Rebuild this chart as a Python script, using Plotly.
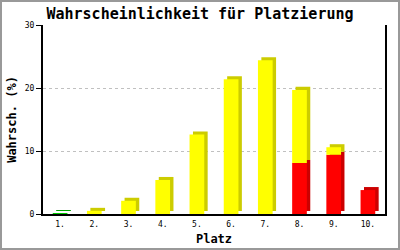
import plotly.graph_objects as go

categories = ["1.", "2.", "3.", "4.", "5.", "6.", "7.", "8.", "9.", "10."]
red_vals = [0, 0, 0, 0, 0, 0, 0, 8.1, 9.4, 3.8]
green_vals = [0.15, 0, 0, 0, 0, 0, 0, 0, 0, 0]
yellow_vals = [0, 0.5, 2.1, 5.4, 12.6, 21.4, 24.4, 11.6, 1.2, 0]
y_ticks = [0, 10, 20, 30]

W = 0.43      # bar width (category units)
DX = 0.1      # depth offset x (category units)
DY = 0.48     # depth offset y (value units)

series = [
    (red_vals, "#ff0000", "#cc0000"),
    (green_vals, "#00cc00", "#00a000"),
    (yellow_vals, "#ffff00", "#cccc00"),
]

xs = list(range(len(categories)))
bases = [0.0] * len(categories)
seg = []
for vals, front, side in series:
    seg.append((vals, list(bases), front, side))
    bases = [b + v for b, v in zip(bases, vals)]

fig = go.Figure()
# depth (shadow) faces first
for vals, base, front, side in seg:
    fig.add_trace(go.Bar(
        x=xs, y=[v if v > 0 else None for v in vals],
        base=[b + DY for b in base], width=W, offset=-W / 2 + DX,
        marker=dict(color=side, line=dict(width=0)), hoverinfo="skip", showlegend=False))
for vals, base, front, side in seg:
    fig.add_trace(go.Bar(
        x=xs, y=[v if v > 0 else None for v in vals],
        base=base, width=W, offset=-W / 2,
        marker=dict(color=front, line=dict(width=0)), hoverinfo="skip", showlegend=False))

L, R, T, B = 43, 15, 25, 36
PW, PH = 400 - L - R, 250 - T - B
mono = "DejaVu Sans Mono"

fig.update_layout(
    width=400, height=250, barmode="overlay",
    margin=dict(l=L, r=R, t=T, b=B, autoexpand=False),
    paper_bgcolor="white", plot_bgcolor="white",
    title=dict(text="Wahrscheinlichkeit für Platzierung", x=0.5, xanchor="center",
               y=1 - 14 / 250, yanchor="middle", xref="container", yref="container",
               font=dict(family=mono, size=15, color="black", weight="bold")),
    xaxis=dict(range=[-0.5, len(categories) - 0.5], tickvals=xs, ticktext=categories,
               showgrid=False, zeroline=False, showline=True, linecolor="black", linewidth=2,
               ticks="", ticklabelstandoff=1, mirror=False,
               tickfont=dict(family=mono, size=8, color="black"),
               title=dict(text="Platz", standoff=7,
                          font=dict(family=mono, size=12, color="black", weight="bold"))),
    yaxis=dict(range=[0, 30], tickvals=y_ticks, showgrid=True, gridcolor="#c0c0c0",
               griddash="dot", gridwidth=1, zeroline=False, showline=True,
               linecolor="black", linewidth=2, mirror=True, ticks="outside", ticklen=5,
               tickwidth=1, tickcolor="black",
               tickfont=dict(family=mono, size=8, color="black"),
               title=dict(text="Wahrsch. (%)", standoff=6,
                          font=dict(family=mono, size=12, color="black", weight="bold"))),
)

fig.add_shape(type="rect", xref="paper", yref="paper",
              x0=(1 - L) / PW, x1=(399 - L) / PW,
              y0=(250 - B - 249) / PH, y1=(250 - B - 1) / PH,
              line=dict(color="#999999", width=2), fillcolor="rgba(0,0,0,0)", layer="above")

fig.write_html("out.html")
